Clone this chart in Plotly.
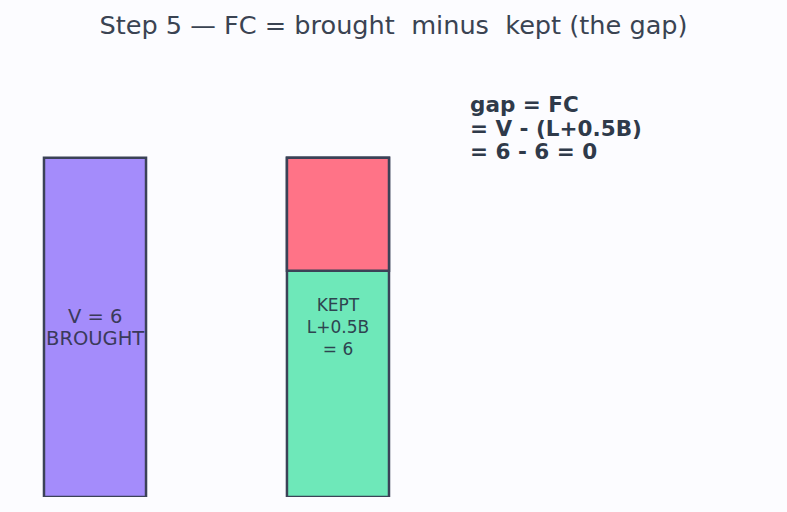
import plotly.graph_objects as go

x_pos = [0, 1]
brought = [6]
kept = [6]
gap_base = [4]
gap_height = [2]
brought_lines = ["V = 6", "BROUGHT"]
kept_label = ["KEPT<br>L+0.5B<br>= 6"]
title_text = "Step 5 — FC = brought \u00a0minus \u00a0kept (the gap)"
gap_lines = ["gap = FC", "= V - (L+0.5B)", "= 6 - 6 = 0"]

line_col = "#3b4257"
txt_col = "#2f3a4a"

fig = go.Figure()
fig.add_trace(go.Bar(x=[x_pos[0]], y=brought, width=0.42,
                     marker=dict(color="#a48cfb", line=dict(color=line_col, width=2.5)), hoverinfo="skip"))
fig.add_trace(go.Bar(x=[x_pos[1]], y=kept, width=0.42, marker=dict(color="#6ee8b9", line=dict(color=line_col, width=2.5)),
                     text=kept_label, textposition="inside", insidetextanchor="middle", textangle=0,
                     constraintext="none",
                     textfont=dict(size=17, color="#2e4450", family="DejaVu Sans"), hoverinfo="skip"))
fig.add_trace(go.Bar(x=[x_pos[1]], y=gap_height, base=gap_base, width=0.42,
                     marker=dict(color="#ff7387", line=dict(color=line_col, width=2.5)), hoverinfo="skip"))

# label lines (slightly tighter line spacing than plotly's default)
for i, line in enumerate(brought_lines):
    fig.add_annotation(x=x_pos[0], y=3.2 - 0.405 * i, xref="x", yref="y", text=line, showarrow=False,
                       xanchor="center", yanchor="middle",
                       font=dict(size=19.5, color="#3a3a5a", family="DejaVu Sans"))

for i, line in enumerate(gap_lines):
    fig.add_annotation(x=1.537, y=6.94 - 0.416 * i, xref="x", yref="y", text="<b>" + line + "</b>",
                       showarrow=False, xanchor="left", yanchor="middle", align="left",
                       font=dict(size=21.5, color=txt_col, family="DejaVu Sans"))

fig.update_layout(
    width=787, height=512, barmode="overlay", showlegend=False,
    paper_bgcolor="#fcfcff", plot_bgcolor="#fcfcff",
    margin=dict(l=0, r=0, t=60, b=15),
    title=dict(text=title_text, x=0.5, xanchor="center", y=0.952, yanchor="middle",
               font=dict(size=25.6, color="#3a4352", family="DejaVu Sans")),
    xaxis=dict(range=[-0.391, 2.848], visible=False),
    yaxis=dict(range=[0, 7.73], visible=False),
)
fig.write_html("out.html")
